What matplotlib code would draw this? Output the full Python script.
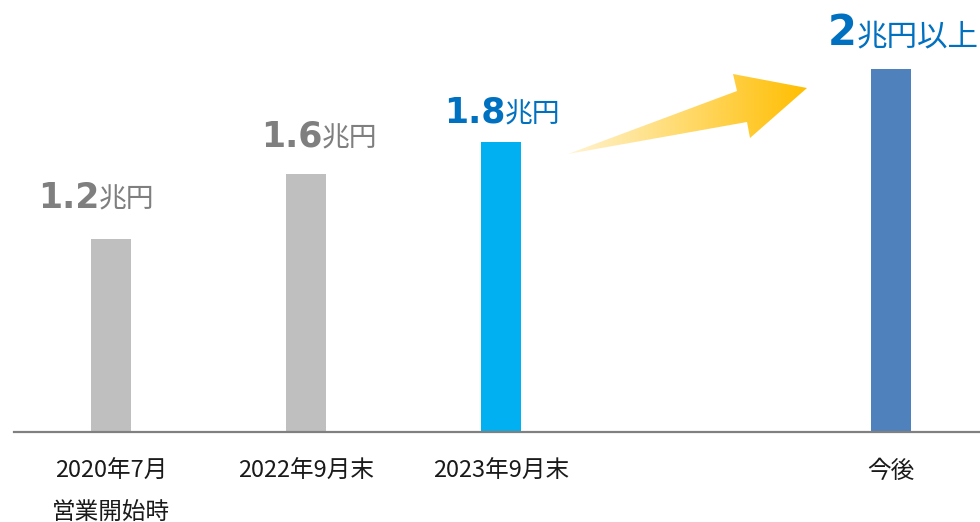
import numpy as np
import matplotlib
matplotlib.use('Agg')
import matplotlib.pyplot as plt
from matplotlib.patches import Polygon

# ---- data ----
categories = ['2020年7月\n営業開始時', '2022年9月末', '2023年9月末', '今後']
positions = [0, 1, 2, 4]
values = [1.2, 1.6, 1.8, 2.25]      # last bar ("2兆円以上") is drawn taller in the picture
value_numbers = ['1.2', '1.6', '1.8', '2']
value_suffixes = ['兆円', '兆円', '兆円', '兆円以上']

# ---- styles ----
bar_colors = ['#BFBFBF', '#BFBFBF', '#00B0F0', '#4F81BD']
label_colors = ['#7F7F7F', '#7F7F7F', '#0070C0', '#0070C0']
label_dx = [-73, -45, -57, -63]      # px, left edge of label relative to bar centre
label_dy = [31, 28, 19, 24]          # px, baseline above bar top
num_sizes = [25, 25, 25, 30]
suf_sizes = [20, 20, 20, 22]
gaps = [-1, -1, -1, 0]

W, H, DPI = 980, 522, 100
fig = plt.figure(figsize=(W / DPI, H / DPI), dpi=DPI)
unit_px = 195
ax = fig.add_axes([(111 - 0.5 * unit_px) / W, 90 / H, 5 * unit_px / W, 403 / H])
ax.set_xlim(-0.5, 4.5)
ax.set_ylim(0, 2.5)
ax.bar(positions, values, width=40 / unit_px, color=bar_colors, zorder=2)

for s in ['top', 'right', 'left']:
    ax.spines[s].set_visible(False)
ax.spines['bottom'].set_color('#808080')
ax.spines['bottom'].set_linewidth(1.6)
ax.set_yticks([])
ax.set_xticks(positions)
ax.set_xticklabels(categories, fontsize=17, family=['Noto Sans CJK JP'],
                   color='#1A1A1A', linespacing=2.0, va='top')
ax.tick_params(axis='x', length=0, pad=20)

# value labels (bold number + smaller suffix)
fig.canvas.draw()
renderer = fig.canvas.get_renderer()
for i in range(len(positions)):
    t1 = ax.annotate(value_numbers[i], xy=(positions[i], values[i]),
                     xytext=(label_dx[i], label_dy[i]), textcoords='offset pixels',
                     ha='left', va='baseline', fontsize=num_sizes[i], weight='bold',
                     family=['DejaVu Sans'], color=label_colors[i])
    w1 = t1.get_window_extent(renderer).width
    ax.annotate(value_suffixes[i], xy=(positions[i], values[i]),
                xytext=(label_dx[i] + w1 + gaps[i], label_dy[i]), textcoords='offset pixels',
                ha='left', va='baseline', fontsize=suf_sizes[i],
                family=['Noto Sans CJK JP', 'DejaVu Sans'], color=label_colors[i])

# gradient arrow (decorative)
ov = fig.add_axes([0, 0, 1, 1], zorder=5)
ov.patch.set_visible(False)
ov.axis('off')
arrow_pts = [(568, 154), (737, 91), (733, 74), (807, 88), (750, 138), (747, 122)]
poly = Polygon(arrow_pts, closed=True, facecolor='none', edgecolor='none')
ov.add_patch(poly)
g = np.linspace(0, 1, 256)
c0 = np.array([255, 244, 210]) / 255
c1 = np.array([255, 190, 0]) / 255
img = c0[None, None, :] * (1 - g)[None, :, None] + c1[None, None, :] * g[None, :, None]
img = np.repeat(img, 2, axis=0)
im = ov.imshow(img, extent=(568, 807, 154, 74), aspect='auto', interpolation='bilinear')
im.set_clip_path(poly)
ov.set_xlim(0, W)
ov.set_ylim(H, 0)

fig.savefig('out.png', dpi=DPI)
